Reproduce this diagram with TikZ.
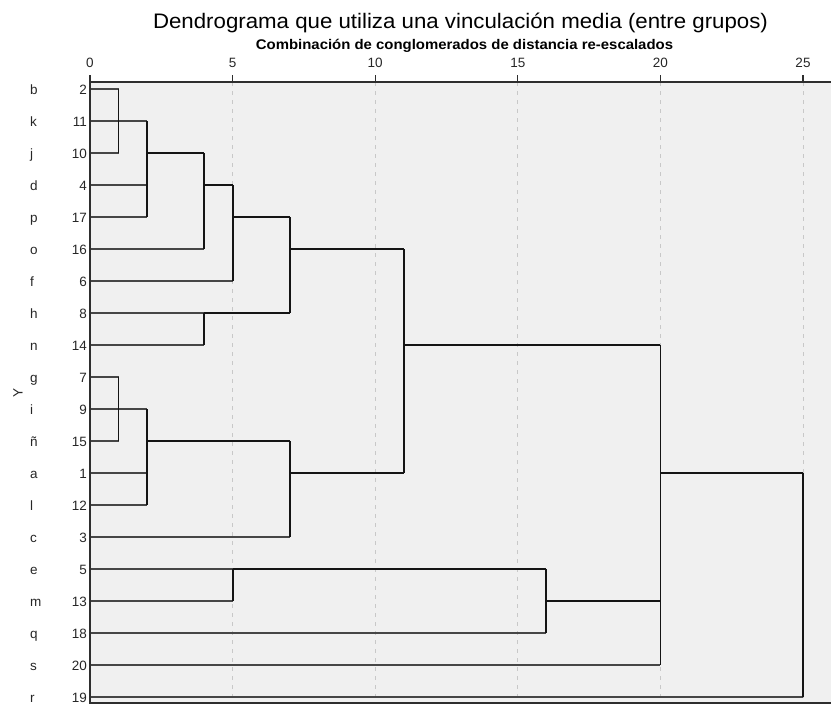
\documentclass[tikz,border=0pt]{standalone}
\usepackage{fontspec}
\setmainfont{Liberation Sans}
\definecolor{plotbg}{HTML}{F0F0F0}
\definecolor{gridc}{HTML}{C8C8C8}
\definecolor{leafc}{HTML}{464646}
\definecolor{linkc}{HTML}{141414}
\definecolor{framec}{HTML}{2E2E2E}
\begin{document}
\begin{tikzpicture}[x=1pt,y=-1pt,
  lbl/.style={font=\fontsize{13.5}{15}\selectfont, inner sep=0pt, text=black!85},
  leafline/.style={draw=leafc, line width=1.8pt},
  link/.style={draw=linkc, line width=1.8pt, line join=miter},
  gridline/.style={draw=gridc, line width=1pt, dash pattern=on 4pt off 5pt},
  frameline/.style={draw=framec, line width=1.8pt}]
\useasboundingbox (0,0) rectangle (831,707);
\fill[plotbg] (90,82) rectangle (831,703);
% column coordinates
\foreach \d in {0,1,2,4,5,7,10,11,15,16,20,25}
  \coordinate (C\d) at ({90+28.52*\d},82);
\foreach \d in {5,10,15,20,25}
  \draw[gridline] (C\d) -- (C\d |- 0,703);
% ticks and tick labels
\foreach \d in {0,5,10,15,20,25} {
  \draw[draw=framec, line width=1.2pt] (C\d) -- ++(0,-7);
  \node[lbl, anchor=base] (tl\d) at ([yshift=14.5pt]C\d) {\d};
}
% titles
\node[anchor=base, inner sep=0pt, font=\fontsize{21}{24}\selectfont] (title) at (460.5,28)
  {\scalebox{1.06}[1]{Dendrograma que utiliza una vinculación media (entre grupos)}};
\node[anchor=base, inner sep=0pt, font=\bfseries\fontsize{14}{16}\selectfont] (subtitle) at (464.5,49)
  {\scalebox{1.066}[1]{Combinación de conglomerados de distancia re-escalados}};
\node[lbl, rotate=90] (ylab) at (18,393) {Y};
% leaves
\foreach \n/\l [count=\i from 0] in {2/b,11/k,10/j,4/d,17/p,16/o,6/f,8/h,14/n,7/g,9/i,15/ñ,1/a,12/l,3/c,5/e,13/m,18/q,20/s,19/r} {
  \coordinate (L\i) at (90,{89+32*\i});
  \node[lbl, anchor=base east] (num\i) at ([xshift=-3pt,yshift=-5.5pt]L\i) {\n};
  \node[lbl, anchor=base west] (let\i) at ([yshift=-5.5pt]L\i -| 30,0) {\l};
}
% leaf lines
\draw[leafline] (L0) -- (L0 -| C1);
\draw[leafline] (L1) -- (L1 -| C2);
\draw[leafline] (L2) -- (L2 -| C1);
\draw[leafline] (L3) -- (L3 -| C2);
\draw[leafline] (L4) -- (L4 -| C2);
\draw[leafline] (L5) -- (L5 -| C4);
\draw[leafline] (L6) -- (L6 -| C5);
\draw[leafline] (L7) -- (L7 -| C4);
\draw[leafline] (L8) -- (L8 -| C4);
\draw[leafline] (L9) -- (L9 -| C1);
\draw[leafline] (L10) -- (L10 -| C2);
\draw[leafline] (L11) -- (L11 -| C1);
\draw[leafline] (L12) -- (L12 -| C2);
\draw[leafline] (L13) -- (L13 -| C2);
\draw[leafline] (L14) -- (L14 -| C7);
\draw[leafline] (L15) -- (L15 -| C5);
\draw[leafline] (L16) -- (L16 -| C5);
\draw[leafline] (L17) -- (L17 -| C16);
\draw[leafline] (L18) -- (L18 -| C20);
\draw[leafline] (L19) -- (L19 -| C25);
% merges
\draw[link] (L0 -| C1) -- (L2 -| C1);
\draw[link] (L1 -| C2) -- (L4 -| C2);
\draw[link] (L2 -| C2) -- (L2 -| C4);
\draw[link] (L2 -| C4) -- (L5 -| C4);
\draw[link] (L3 -| C4) -- (L3 -| C5);
\draw[link] (L3 -| C5) -- (L6 -| C5);
\draw[link] (L4 -| C5) -- (L4 -| C7);
\draw[link] (L7 -| C4) -- (L8 -| C4);
\draw[link] (L7 -| C4) -- (L7 -| C7);
\draw[link] (L4 -| C7) -- (L7 -| C7);
\draw[link] (L5 -| C7) -- (L5 -| C11);
\draw[link] (L9 -| C1) -- (L11 -| C1);
\draw[link] (L10 -| C2) -- (L13 -| C2);
\draw[link] (L11 -| C2) -- (L11 -| C7);
\draw[link] (L11 -| C7) -- (L14 -| C7);
\draw[link] (L12 -| C7) -- (L12 -| C11);
\draw[link] (L5 -| C11) -- (L12 -| C11);
\draw[link] (L8 -| C11) -- (L8 -| C20);
\draw[link] (L15 -| C5) -- (L16 -| C5);
\draw[link] (L15 -| C5) -- (L15 -| C16);
\draw[link] (L15 -| C16) -- (L17 -| C16);
\draw[link] (L16 -| C16) -- (L16 -| C20);
\draw[link] (L8 -| C20) -- (L18 -| C20);
\draw[link] (L12 -| C20) -- (L12 -| C25);
\draw[link] (L12 -| C25) -- (L19 -| C25);
% frame
\draw[frameline] (831,82) -- (C0) -- (C0 |- 0,703) -- (831,703);
\end{tikzpicture}
\end{document}
